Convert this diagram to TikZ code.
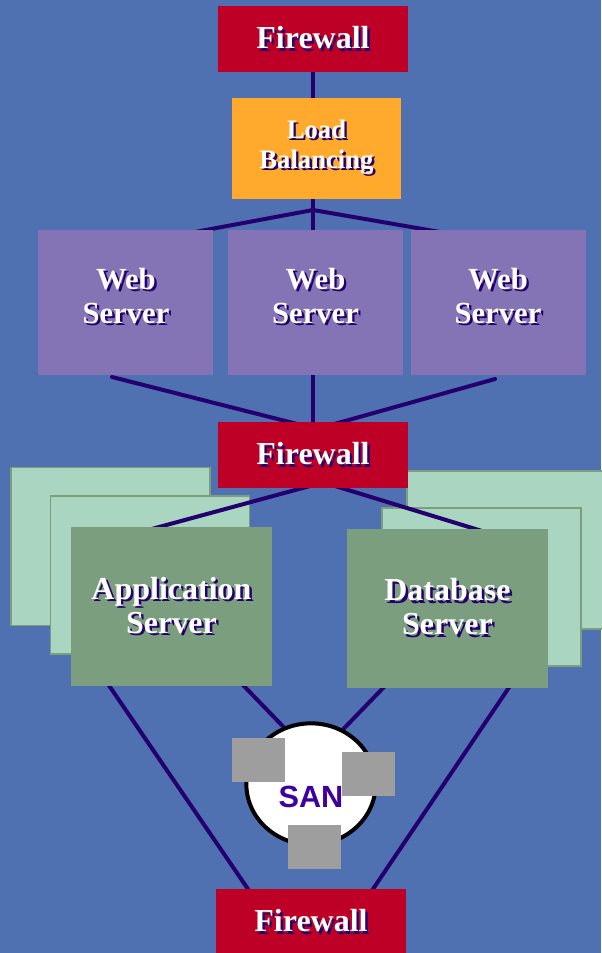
\documentclass[tikz,border=0pt]{standalone}
\usepackage{fontspec}
\setmainfont{Liberation Serif}
\newfontfamily\sanfont{Liberation Sans}
\usepackage{tikz}
\usetikzlibrary{positioning, shapes.geometric}
\pgfdeclarelayer{backdrop}
\pgfdeclarelayer{background}
\pgfsetlayers{backdrop,background,main}
\definecolor{sky}{HTML}{4F71B1}
\definecolor{navy}{HTML}{23006E}
\definecolor{fwred}{HTML}{BE0026}
\definecolor{lbgold}{HTML}{FFAA2D}
\definecolor{webviolet}{HTML}{8474B6}
\definecolor{mint}{HTML}{A9D5C1}
\definecolor{sage}{HTML}{7A9E7E}
\definecolor{diskgrey}{HTML}{9E9E9E}
\definecolor{sanviolet}{HTML}{3F00A0}
\newcommand{\Shd}[1]{\rlap{\kern1.8pt\raisebox{-1.8pt}{\textcolor{navy}{#1}}}#1}
\tikzset{
    box/.style={inner sep=0pt, align=center, text=white},
    firewall/.style={box, fill=fwred, minimum width=142.5pt, minimum height=49.5pt,
      font=\bfseries\fontsize{24}{26}\selectfont},
    balancer/.style={box, fill=lbgold, minimum width=126.75pt, minimum height=75.75pt,
      font=\bfseries\fontsize{20}{22.5}\selectfont},
    web/.style={box, fill=webviolet, minimum width=131.25pt, minimum height=108.75pt,
      text depth=10pt, font=\bfseries\fontsize{23}{25.5}\selectfont},
    tier/.style={box, fill=sage, minimum width=150.75pt, minimum height=119.25pt,
      font=\bfseries\fontsize{24}{25.5}\selectfont},
    ghost/.style={fill=mint, draw=sage, line width=1.2pt, inner sep=0pt,
      minimum width=149.5pt, minimum height=118.5pt},
    disk/.style={fill=diskgrey, inner sep=0pt, minimum width=39.75pt, minimum height=33pt},
    wire/.style={draw=navy, line width=3pt, line cap=round},
}

\begin{document}
\begin{tikzpicture}[x=0.75pt, y=-0.75pt]
    \begin{pgfonlayer}{backdrop}
      \fill[sky] (0,0) rectangle (601,953);
    \end{pgfonlayer}
    \useasboundingbox (0,0) rectangle (601,953);

    \node[firewall] (fw1) at (313,39) {\Shd{Firewall}};
    \node[balancer, below=18.75pt of fw1, xshift=2.6pt] (lb) {\Shd{Load}\\\Shd{Balancing}};

    \node[web] (web2) at (315.5,302.5) {\Shd{Web}\\\Shd{Server}};
    \node[web, left=10.5pt of web2] (web1) {\Shd{Web}\\\Shd{Server}};
    \node[web, right=5.25pt of web2] (web3) {\Shd{Web}\\\Shd{Server}};

    \node[firewall] (fw2) at (313,455) {\Shd{Firewall}};

    \node[tier] (app) at (171.5,606.5) {\Shd{Application}\\\Shd{Server}};
    \node[tier] (db) at (447.5,608) {\Shd{Database}\\\Shd{Server}};

    \node[draw, ellipse, fill=white, line width=3pt, minimum width=97pt, minimum height=91pt] (san) at (311,784) {};
    \node[text=sanviolet, font=\sanfont\bfseries\fontsize{23}{25}\selectfont] (santext) at (311,797) {SAN};
    \node[disk] (d1) at (258.5,760) {};
    \node[disk] (d2) at (368.5,774) {};
    \node[disk] (d3) at (314.5,847) {};

    \node[firewall] (fw3) at (311,922) {\Shd{Firewall}};

    \begin{pgfonlayer}{background}
      % stacked copies behind the two servers
      \node[ghost] (appA) at (110.5,546.5) {};
      \node[ghost] (appB) at (150,575) {};
      \node[ghost] (dbA) at (506.5,550) {};
      \node[ghost] (dbB) at (481.5,587) {};

      \coordinate (hub) at (313,210);
      \coordinate (hubL) at (195,232);
      \coordinate (hubR) at (440,232);
      \coordinate (webL) at (112,377);
      \coordinate (webR) at (495,379);
      \coordinate (fwL) at (313,428);
      \coordinate (fwR) at (313,430);
      \coordinate (fw2L) at (310,486);
      \coordinate (fw2R) at (335,486);
      \coordinate (appT) at (148,530);
      \coordinate (dbT) at (482,531);
      \coordinate (appL) at (108,684);
      \coordinate (appR) at (242,684);
      \coordinate (dbL) at (385,686);
      \coordinate (dbR) at (510,686);
      \coordinate (sanL) at (301,745);
      \coordinate (sanR) at (326,747);
      \coordinate (fw3L) at (250,892);
      \coordinate (fw3R) at (371,892);

      \draw[wire] (fw1) -- (fw1 |- web2.north);
      \draw[wire] (hubL) -- (hub) -- (hubR);
      \draw[wire] (webL) -- (fwL);
      \draw[wire] (webR) -- (fwR);
      \draw[wire] (fw2) -- (fw2 |- web2.south);
      \draw[wire] (fw2L) -- (appT);
      \draw[wire] (fw2R) -- (dbT);
      \draw[wire] (appL) -- (fw3L);
      \draw[wire] (appR) -- (sanL);
      \draw[wire] (dbL) -- (sanR);
      \draw[wire] (dbR) -- (fw3R);
    \end{pgfonlayer}
\end{tikzpicture}
\end{document}
